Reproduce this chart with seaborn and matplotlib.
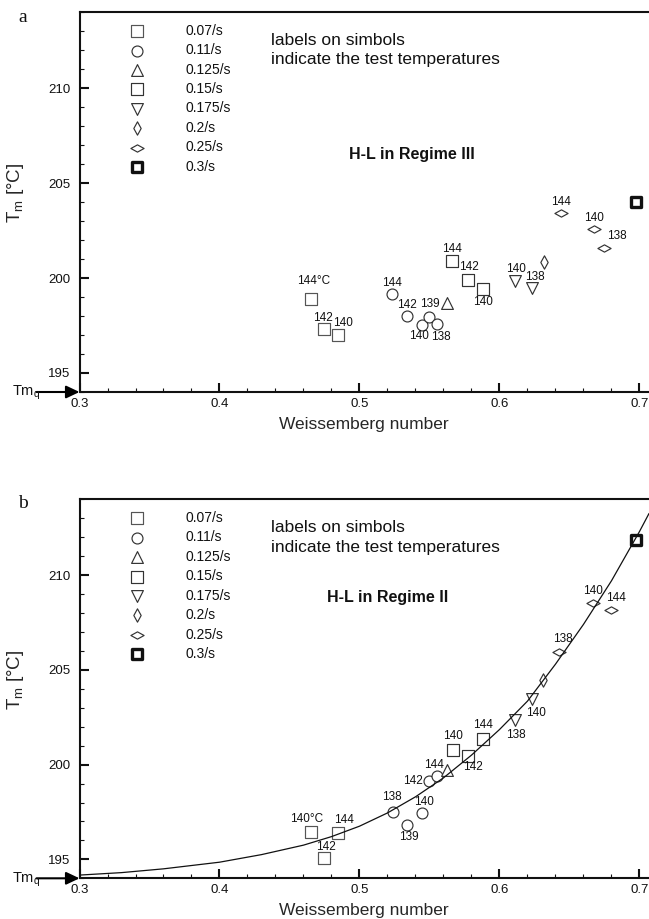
import numpy as np
import pandas as pd
import matplotlib
matplotlib.use("Agg")
import matplotlib.pyplot as plt
import matplotlib.path as mpath
import seaborn as sns
from matplotlib.ticker import MultipleLocator

# ---------------- data ----------------
rates = ['0.07/s', '0.11/s', '0.125/s', '0.15/s', '0.175/s', '0.2/s', '0.25/s', '0.3/s']

# panel a (Regime III)
a_w_007 = [0.4654, 0.4749, 0.4844]
a_t_007 = [198.88, 197.30, 196.98]
a_l_007 = ['144°C', '142', '140']
a_w_011 = [0.5234, 0.5339, 0.5444, 0.5496, 0.5554]
a_t_011 = [199.16, 198.00, 197.54, 197.93, 197.58]
a_l_011 = ['144', '142', '140', '139', '138']
a_w_0125 = [0.5625]
a_t_0125 = [198.67]
a_l_0125 = ['']
a_w_015 = [0.5663, 0.5773, 0.5882]
a_t_015 = [200.89, 199.91, 199.40]
a_l_015 = ['144', '142', '140']
a_w_0175 = [0.6111, 0.6230]
a_t_0175 = [199.84, 199.46]
a_l_0175 = ['140', '138']
a_w_02 = [0.6316]
a_t_02 = [200.83]
a_l_02 = ['']
a_w_025 = [0.6437, 0.6675, 0.6746]
a_t_025 = [203.40, 202.60, 201.58]
a_l_025 = ['144', '140', '138']
a_w_03 = [0.6975]
a_t_03 = [203.98]
a_l_03 = ['']

# panel b (Regime II)
b_w_007 = [0.4656, 0.4848, 0.4750]
b_t_007 = [196.45, 196.40, 195.05]
b_l_007 = ['140°C', '144', '142']
b_w_011 = [0.5238, 0.5341, 0.5445, 0.5498, 0.5554]
b_t_011 = [197.49, 196.79, 197.45, 199.14, 199.38]
b_l_011 = ['138', '139', '140', '142', '144']
b_w_0125 = [0.5622]
b_t_0125 = [199.74]
b_l_0125 = ['']
b_w_015 = [0.5667, 0.5773, 0.5882]
b_t_015 = [200.79, 200.47, 201.35]
b_l_015 = ['140', '142', '144']
b_w_0175 = [0.6112, 0.6230]
b_t_0175 = [202.33, 203.47]
b_l_0175 = ['138', '140']
b_w_02 = [0.6313]
b_t_02 = [204.47]
b_l_02 = ['']
b_w_025 = [0.6427, 0.6670, 0.6794]
b_t_025 = [205.96, 208.53, 208.17]
b_l_025 = ['138', '140', '144']
b_w_03 = [0.6973]
b_t_03 = [211.84]
b_l_03 = ['']

# fitted curve in panel b
curve_w = [0.30, 0.33, 0.36, 0.40, 0.43, 0.46, 0.48, 0.50, 0.52, 0.54, 0.56,
           0.58, 0.60, 0.62, 0.64, 0.66, 0.68, 0.70, 0.7068]
curve_t = [194.17, 194.30, 194.50, 194.85, 195.25, 195.75, 196.20, 196.75, 197.45,
           198.30, 199.30, 200.50, 201.85, 203.35, 205.30, 207.40, 209.70, 212.30, 213.25]

# label offsets in pixels (layout only)
a_off = {
    '0.07/s': [(3, 18.6), (-1, 11.6), (5, 12)],
    '0.11/s': [(0, 11.3), (0, 10.5), (-3, -11.3), (1, 13.3), (3.7, -12.7)],
    '0.125/s': [(0, 0)],
    '0.15/s': [(0, 12), (1.6, 13), (0, -12.4)],
    '0.175/s': [(1, 12), (3.3, 11)],
    '0.2/s': [(0, 0)],
    '0.25/s': [(0, 11.6), (0, 10.4), (13, 12)],
    '0.3/s': [(0, 0)],
}
b_off = {
    '0.07/s': [(-5, 12.4), (5.3, 13.3), (1, 11.3)],
    '0.11/s': [(-1, 14.7), (1.7, -11.4), (2.5, 11), (-16.5, 0), (-3.3, 11.7)],
    '0.125/s': [(0, 0)],
    '0.15/s': [(0, 13.3), (5.4, -11.4), (0, 13.7)],
    '0.175/s': [(1, -15), (4, -14.4)],
    '0.2/s': [(0, 0)],
    '0.25/s': [(4, 12.7), (0, 12.3), (5.3, 11.7)],
    '0.3/s': [(0, 0)],
}

panel_a = dict(zip(rates, [(a_w_007, a_t_007, a_l_007), (a_w_011, a_t_011, a_l_011),
                           (a_w_0125, a_t_0125, a_l_0125), (a_w_015, a_t_015, a_l_015),
                           (a_w_0175, a_t_0175, a_l_0175), (a_w_02, a_t_02, a_l_02),
                           (a_w_025, a_t_025, a_l_025), (a_w_03, a_t_03, a_l_03)]))
panel_b = dict(zip(rates, [(b_w_007, b_t_007, b_l_007), (b_w_011, b_t_011, b_l_011),
                           (b_w_0125, b_t_0125, b_l_0125), (b_w_015, b_t_015, b_l_015),
                           (b_w_0175, b_t_0175, b_l_0175), (b_w_02, b_t_02, b_l_02),
                           (b_w_025, b_t_025, b_l_025), (b_w_03, b_t_03, b_l_03)]))

# ---------------- style ----------------
sns.set_style("ticks")
plt.rcParams['font.family'] = ['Liberation Sans', 'DejaVu Sans']
plt.rcParams['mathtext.default'] = 'regular'
plt.rcParams['text.color'] = '#111111'

thin_diamond = mpath.Path([(0, 1), (0.55, 0), (0, -1), (-0.55, 0), (0, 1)], closed=True)
wide_diamond = mpath.Path([(-1, 0), (0, 0.55), (1, 0), (0, -0.55), (-1, 0)], closed=True)

styles = {
    '0.07/s': dict(marker='s', s=64, ec='#555555', lw=0.85),
    '0.11/s': dict(marker='o', s=62, ec='#333333', lw=0.85),
    '0.125/s': dict(marker='^', s=72, ec='#333333', lw=0.85),
    '0.15/s': dict(marker='s', s=64, ec='#333333', lw=0.85),
    '0.175/s': dict(marker='v', s=72, ec='#333333', lw=0.85),
    '0.2/s': dict(marker=thin_diamond, s=92, ec='#333333', lw=0.85),
    '0.25/s': dict(marker=wide_diamond, s=90, ec='#333333', lw=0.85),
    '0.3/s': dict(marker='s', s=44, ec='#111111', lw=2.4),
}

fig = plt.figure(figsize=(6.49, 9.19), dpi=100)
ax_a = fig.add_axes([0.1225, 0.57345, 0.8775, 0.41349])
ax_b = fig.add_axes([0.1225, 0.04428, 0.8775, 0.41241])


def draw_panel(ax, panel, offsets, regime, legend_y):
    for rate in rates:
        w, t, labs = panel[rate]
        st = styles[rate]
        sns.scatterplot(x=w, y=t, ax=ax, marker=st['marker'], s=st['s'],
                        facecolor='white', edgecolor=st['ec'], linewidth=st['lw'],
                        label=rate, legend=False, zorder=3)
        for xi, yi, lab, off in zip(w, t, labs, offsets[rate]):
            if lab:
                ax.annotate(lab, (xi, yi), xytext=off, textcoords='offset pixels',
                            ha='center', va='center', fontsize=8.5)
    ax.set_xlim(0.3, 0.7068)
    ax.set_ylim(194, 214)
    ax.xaxis.set_minor_locator(MultipleLocator(0.02))
    ax.yaxis.set_minor_locator(MultipleLocator(1))
    ax.set_yticks([195, 200, 205, 210])
    ax.set_xticks([0.3, 0.4, 0.5, 0.6, 0.7])
    ax.set_xticklabels(['0.3', '0.4', '0.5', '0.6', '0.7'])
    ax.tick_params(which='major', direction='in', length=6.5, width=1.5,
                   labelsize=9.5, top=False, right=False, colors='#111111')
    ax.tick_params(axis='y', which='major', pad=6.5)
    ax.tick_params(axis='x', which='major', pad=4.3)
    ax.tick_params(which='minor', direction='in', length=3, width=0.8,
                   top=False, right=False, colors='#111111')
    for sp in ['left', 'bottom', 'top']:
        ax.spines[sp].set_linewidth(1.5)
        ax.spines[sp].set_color('#111111')
    ax.spines['right'].set_visible(False)
    ax.set_xlabel('Weissemberg number', fontsize=12.5, labelpad=5)
    ax.set_ylabel(r'T$_{m}$ [°C]', fontsize=13.5)
    ax.yaxis.set_label_coords(-0.094, 0.523)

    ax.legend(loc='upper left', bbox_to_anchor=(0.0759, legend_y), frameon=False,
              borderpad=0, borderaxespad=0, handlelength=2, handletextpad=2.55,
              labelspacing=0.39, fontsize=10, scatterpoints=1)

    ax.text(0.336, 0.9245, 'labels on simbols', transform=ax.transAxes,
            fontsize=12.5, ha='left', va='center')
    ax.text(0.336, 0.8737, 'indicate the test temperatures', transform=ax.transAxes,
            fontsize=12.5, ha='left', va='center')
    ax.text(regime[0], regime[1], regime[2], transform=ax.transAxes,
            fontsize=11.5, fontweight='bold', ha='left', va='center')

    # Tm_q arrow marker at the origin
    ax.annotate('', xy=(0, 0), xycoords='axes fraction', xytext=(-43, 0),
                textcoords='offset pixels',
                arrowprops=dict(arrowstyle='-|>,head_length=0.8,head_width=0.38',
                                lw=1.5, color='black', shrinkA=0, shrinkB=0),
                annotation_clip=False)
    ax.annotate(r'Tm$_{q}$', xy=(0, 0), xycoords='axes fraction', xytext=(-67.5, -4),
                textcoords='offset pixels', ha='left', va='baseline', fontsize=10.5,
                annotation_clip=False)


draw_panel(ax_a, panel_a, a_off, (0.473, 0.6237, 'H-L in Regime III'), 0.969)
draw_panel(ax_b, panel_b, b_off, (0.4346, 0.7396, 'H-L in Regime II'), 0.969)

sns.lineplot(x=curve_w, y=curve_t, ax=ax_b, color='#111111', linewidth=0.9,
             zorder=4, legend=False)
ax_b.set_xlim(0.3, 0.7068)
ax_b.set_ylim(194, 214)

fig.text(18 / 649, 1 - 22 / 919, 'a', family=['Liberation Serif', 'DejaVu Serif'],
         fontsize=14, ha='left', va='baseline')
fig.text(18 / 649, 1 - 508 / 919, 'b', family=['Liberation Serif', 'DejaVu Serif'],
         fontsize=14, ha='left', va='baseline')

fig.savefig('out.png', dpi=100)
